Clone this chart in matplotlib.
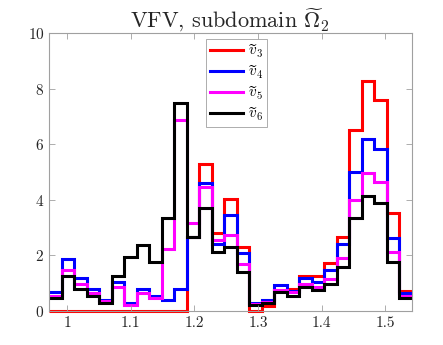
import numpy as np
import matplotlib
matplotlib.use("Agg")
import matplotlib.pyplot as plt

plt.rcParams['font.family'] = ['cmr10', 'DejaVu Serif']
plt.rcParams['mathtext.fontset'] = 'cm'
plt.rcParams['axes.formatter.use_mathtext'] = True

# 29 bins between the smallest and largest sample
x_min = 0.972
x_max = 1.541
n_bins = 29

v3 = [0, 0, 0, 0, 0, 0, 0, 0, 0, 0, 0, 2.65, 5.29, 2.82, 4.04, 2.29, 0, 0.18, 0.74, 0.78,
      1.26, 1.26, 1.74, 2.65, 6.52, 8.27, 7.58, 3.53, 0.73]
v4 = [0.67, 1.86, 1.2, 0.79, 0.4, 1.06, 0.3, 0.78, 0.54, 0.4, 0.79, 2.65, 4.62, 2.42, 3.45, 2.1,
      0.3, 0.4, 0.94, 0.72, 1.18, 1.06, 1.48, 2.4, 5.02, 6.2, 5.82, 2.64, 0.64]
v5 = [0.55, 1.47, 0.98, 0.66, 0.35, 0.87, 0.23, 0.64, 0.45, 2.24, 6.88, 3.18, 4.45, 2.55, 2.74, 1.68,
      0.25, 0.33, 0.76, 0.67, 0.98, 0.88, 1.15, 1.9, 4.01, 4.97, 4.66, 2.12, 0.55]
v6 = [0.45, 1.25, 0.8, 0.54, 0.28, 1.26, 1.96, 2.38, 1.78, 3.34, 7.48, 2.65, 3.71, 2.11, 2.29, 1.42,
      0.22, 0.28, 0.68, 0.54, 0.86, 0.74, 0.98, 1.6, 3.34, 4.14, 3.88, 1.77, 0.46]

series = [(v3, 'red', r'$\widetilde{v}_3$'),
          (v4, 'blue', r'$\widetilde{v}_4$'),
          (v5, 'magenta', r'$\widetilde{v}_5$'),
          (v6, 'black', r'$\widetilde{v}_6$')]

edges = np.linspace(x_min, x_max, n_bins + 1)

fig = plt.figure(figsize=(4.43, 3.45), dpi=100)
ax = fig.add_axes([0.111, 0.0986, 0.818, 0.805])

for vals, col, lab in series:
    ax.stairs(vals, edges, baseline=None, color=col, lw=2.2, label=lab, clip_on=False)

ax.set_xlim(x_min, x_max)
ax.set_ylim(0, 10)
ax.set_xticks([1, 1.1, 1.2, 1.3, 1.4, 1.5])
ax.set_xticklabels(['1', '1.1', '1.2', '1.3', '1.4', '1.5'])
ax.set_yticks([0, 2, 4, 6, 8, 10])
ax.tick_params(direction='in', top=True, right=True, length=4, width=0.6,
               colors='#a0a0a0', labelcolor='#262626', labelsize=11)
for s in ax.spines.values():
    s.set_color('#a0a0a0')
    s.set_linewidth(0.8)

ax.set_title(r'VFV, subdomain $\widetilde{\Omega}_2$', fontsize=16, color='#262626', pad=4)

leg = ax.legend(loc='upper left', bbox_to_anchor=(0.432, 0.979), borderaxespad=0,
                fontsize=11, fancybox=False, edgecolor='#a0a0a0', framealpha=1,
                handlelength=2.2, handletextpad=0.3, borderpad=0.25, labelspacing=0.22)
leg.get_frame().set_linewidth(0.6)

fig.savefig('out.png', dpi=100)
